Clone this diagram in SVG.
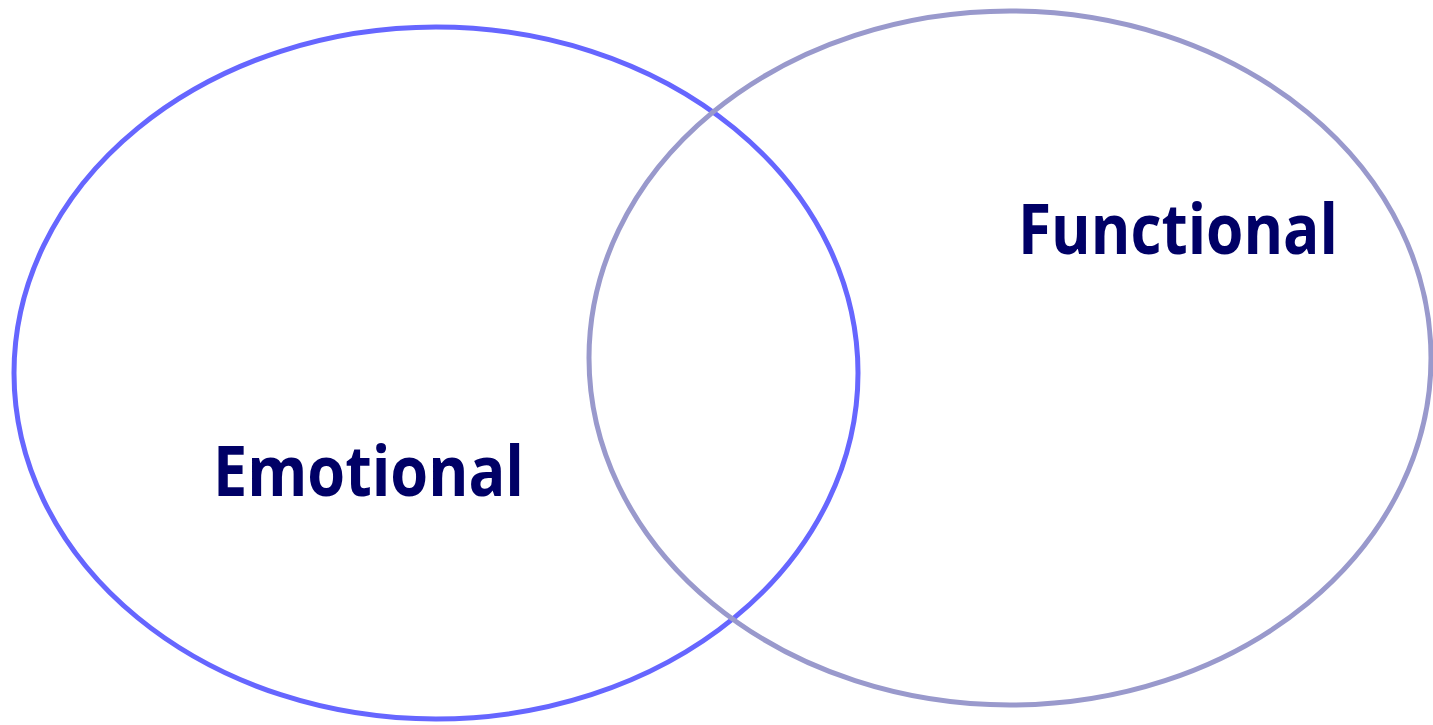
<svg xmlns="http://www.w3.org/2000/svg" width="1433" height="725" viewBox="0 0 1433 725">
<style>
.lbl{font-family:"Open Sans","Liberation Sans",sans-serif;font-weight:bold;font-size:70px;fill:#000066}
.ring{fill:none;stroke-width:5}
</style>
<rect width="1433" height="725" fill="#ffffff"/>
<g id="emotional">
<ellipse class="ring" cx="436" cy="373" rx="422" ry="346" stroke="#6666FF"/>
<text class="lbl" x="213" y="496" textLength="311" lengthAdjust="spacingAndGlyphs">Emotional</text>
</g>
<g id="functional">
<ellipse class="ring" cx="1010" cy="358" rx="421" ry="347" stroke="#9999CC"/>
<text class="lbl" x="1018" y="254" textLength="320" lengthAdjust="spacingAndGlyphs">Functional</text>
</g>
<g id="connectors"></g>
</svg>
